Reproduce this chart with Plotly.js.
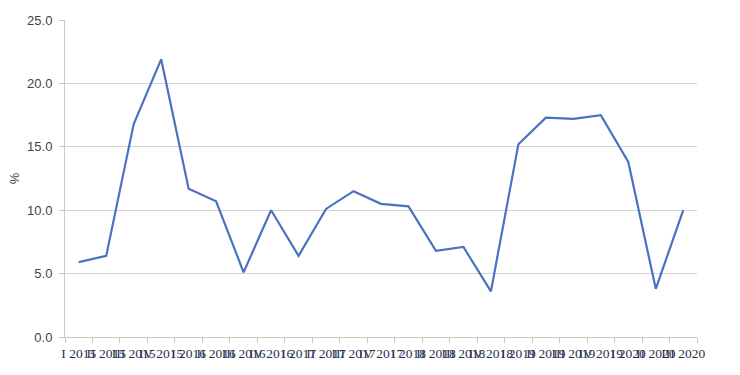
<!DOCTYPE html>
<html>
<head>
<meta charset="utf-8">
<script src="https://cdn.plot.ly/plotly-3.0.1.min.js"></script>
<style>html,body{margin:0;padding:0;background:#fff;}#chart{width:740px;height:375px;}</style>
</head>
<body>
<div id="chart"></div>
<script>
const quarters = ["I 2015","II 2015","III 2015","IV 2015","I 2016","II 2016","III 2016","IV 2016","I 2017","II 2017","III 2017","IV 2017","I 2018","II 2018","III 2018","IV 2018","I 2019","II 2019","III 2019","IV 2019","I 2020","II 2020","III 2020"];
const values = [5.9, 6.4, 16.8, 21.9, 11.7, 10.7, 5.1, 10.0, 6.4, 10.1, 11.5, 10.5, 10.3, 6.8, 7.1, 3.6, 15.2, 17.3, 17.2, 17.5, 13.8, 3.8, 10.0];
const yTicks = [0, 5, 10, 15, 20, 25];

Plotly.newPlot('chart', [{
  x: quarters,
  y: values,
  type: 'scatter',
  mode: 'lines',
  line: {color: '#4a72c0', width: 2.2},
  hoverinfo: 'skip'
}], {
  width: 740,
  height: 375,
  margin: {l: 65, r: 43, t: 20, b: 38},
  paper_bgcolor: '#fff',
  plot_bgcolor: '#fff',
  showlegend: false,
  xaxis: {
    type: 'category',
    tickmode: 'linear', tick0: 0, dtick: 1,
    tickangle: 0,
    tickson: 'boundaries',
    ticks: 'outside', ticklen: 5, tickcolor: '#c8c8c8',
    ticklabelstandoff: 4,
    showgrid: false,
    showline: true, linecolor: '#c8c8c8', linewidth: 1,
    tickfont: {family: 'Liberation Serif, Times New Roman, serif', size: 13.5, color: '#2a3050'},
    range: [-0.5, 22.5],
    zeroline: false
  },
  yaxis: {
    range: [0, 25],
    tickvals: yTicks,
    tickformat: '.1f',
    ticks: 'outside', ticklen: 5, tickcolor: '#c8c8c8',
    ticklabelstandoff: 4,
    showgrid: true, gridcolor: '#d4d4d4', gridwidth: 1,
    showline: true, linecolor: '#c8c8c8', linewidth: 1,
    zeroline: false,
    tickfont: {family: 'Liberation Sans, Arial, sans-serif', size: 13, color: '#444'},
    title: {text: '%', font: {family: 'Liberation Sans, Arial, sans-serif', size: 13, color: '#444'}, standoff: 4}
  }
}, {staticPlot: true});
</script>
</body>
</html>
